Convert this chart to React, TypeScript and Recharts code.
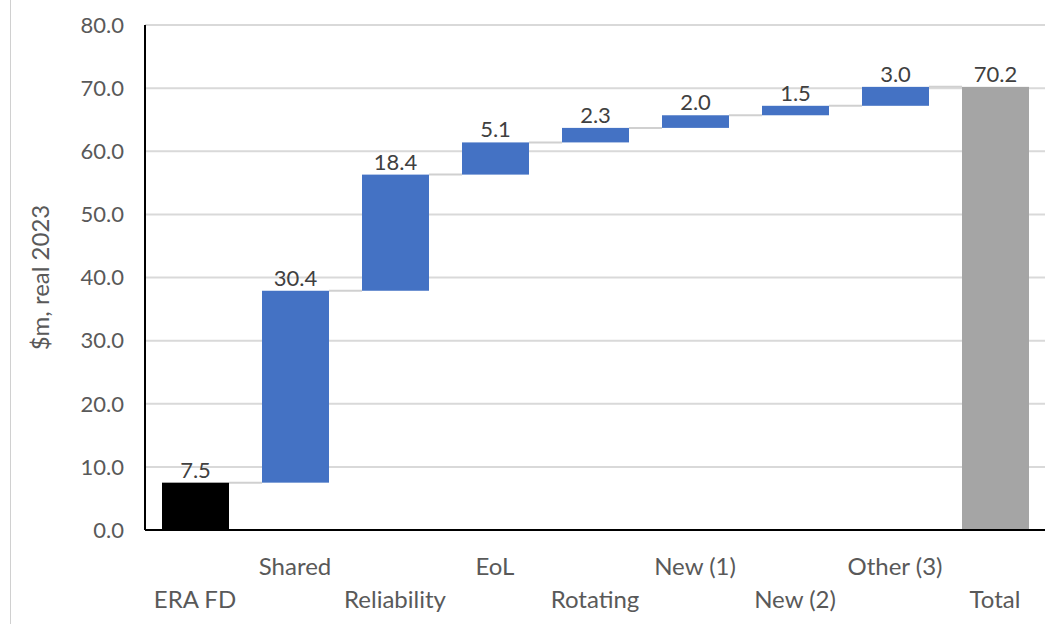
import React from 'react';
import { BarChart, Bar, XAxis, YAxis, CartesianGrid, LabelList, Cell } from 'recharts';

const categories = ['ERA FD', 'Shared', 'Reliability', 'EoL', 'Rotating', 'New (1)', 'New (2)', 'Other (3)', 'Total'];
const changes = [7.5, 30.4, 18.4, 5.1, 2.3, 2.0, 1.5, 3.0, 70.2];
const yTicks = [0, 10, 20, 30, 40, 50, 60, 70, 80];

const W = 1056;
const H = 624;
const margin = { top: 25, right: 11, left: 0, bottom: 0 };
const yAxisWidth = 145;
const xAxisHeight = 94;
const barSize = 67;
const band = (W - margin.left - margin.right - yAxisWidth) / categories.length;

const font = 'Lato, "Open Sans", sans-serif';

// base = running total before each step; first and last bars start at zero
const data = categories.map((name, i) => {
    const isEnd = i === 0 || i === categories.length - 1;
    const base = isEnd ? 0 : changes.slice(0, i).reduce((a, b) => a + b, 0);
    return { name, base, value: changes[i], label: changes[i].toFixed(1) };
});

const colorFor = (i: number) => {
    if (i === 0) return '#000000';
    if (i === categories.length - 1) return '#A5A5A5';
    return '#4472C4';
};

const StepBar = (props: any) => {
    const { x, y, width, height, fill, index } = props;
    const last = index >= categories.length - 1;
    return (
        <g>
            <rect x={x} y={y} width={width} height={height} fill={fill} />
            {!last && (
                <line x1={x + width} x2={x + width + (band - barSize)} y1={y} y2={y} stroke="#D0D0D0" strokeWidth={2} />
            )}
        </g>
    );
};

const TwoRowTick = (props: any) => {
    const { x, y, payload, index } = props;
    const upper = index % 2 === 1;
    return (
        <text x={x} y={y + (upper ? 37 : 70)} textAnchor="middle" fill="#595959" fontSize={24} fontFamily={font}>
            {payload.value}
        </text>
    );
};

export default function App() {
    return (
        <div style={{ position: 'absolute', left: 0, top: 0, width: W, height: H, background: '#fff' }}>
            <div style={{ position: 'absolute', left: 10, top: 0, width: 1, height: H, background: '#D0D0D0' }} />
            <BarChart width={W} height={H} data={data} margin={margin} barSize={barSize}>
                <CartesianGrid vertical={false} stroke="#D9D9D9" strokeWidth={2} />
                <XAxis
                    dataKey="name"
                    height={xAxisHeight}
                    tickLine={false}
                    axisLine={{ stroke: '#000', strokeWidth: 2 }}
                    interval={0}
                    tick={<TwoRowTick />}
                />
                <YAxis
                    width={yAxisWidth}
                    domain={[0, 80]}
                    ticks={yTicks}
                    tickLine={false}
                    axisLine={{ stroke: '#000', strokeWidth: 2 }}
                    tickFormatter={(v) => Number(v).toFixed(1)}
                    tick={{ fill: '#595959', fontSize: 22, fontFamily: font }}
                    tickMargin={15}
                    label={{
                        value: '$m, real 2023',
                        angle: -90,
                        position: 'insideLeft',
                        offset: 40,
                        style: { textAnchor: 'middle', fill: '#595959', fontSize: 24, fontFamily: font },
                    }}
                />
                <Bar dataKey="base" stackId="w" fill="transparent" isAnimationActive={false} />
                <Bar dataKey="value" stackId="w" shape={<StepBar />} isAnimationActive={false}>
                    {data.map((d, i) => (
                        <Cell key={d.name} fill={colorFor(i)} />
                    ))}
                    <LabelList dataKey="label" position="top" offset={5} fill="#404040" fontSize={22} fontFamily={font} />
                </Bar>
            </BarChart>
        </div>
    );
}
